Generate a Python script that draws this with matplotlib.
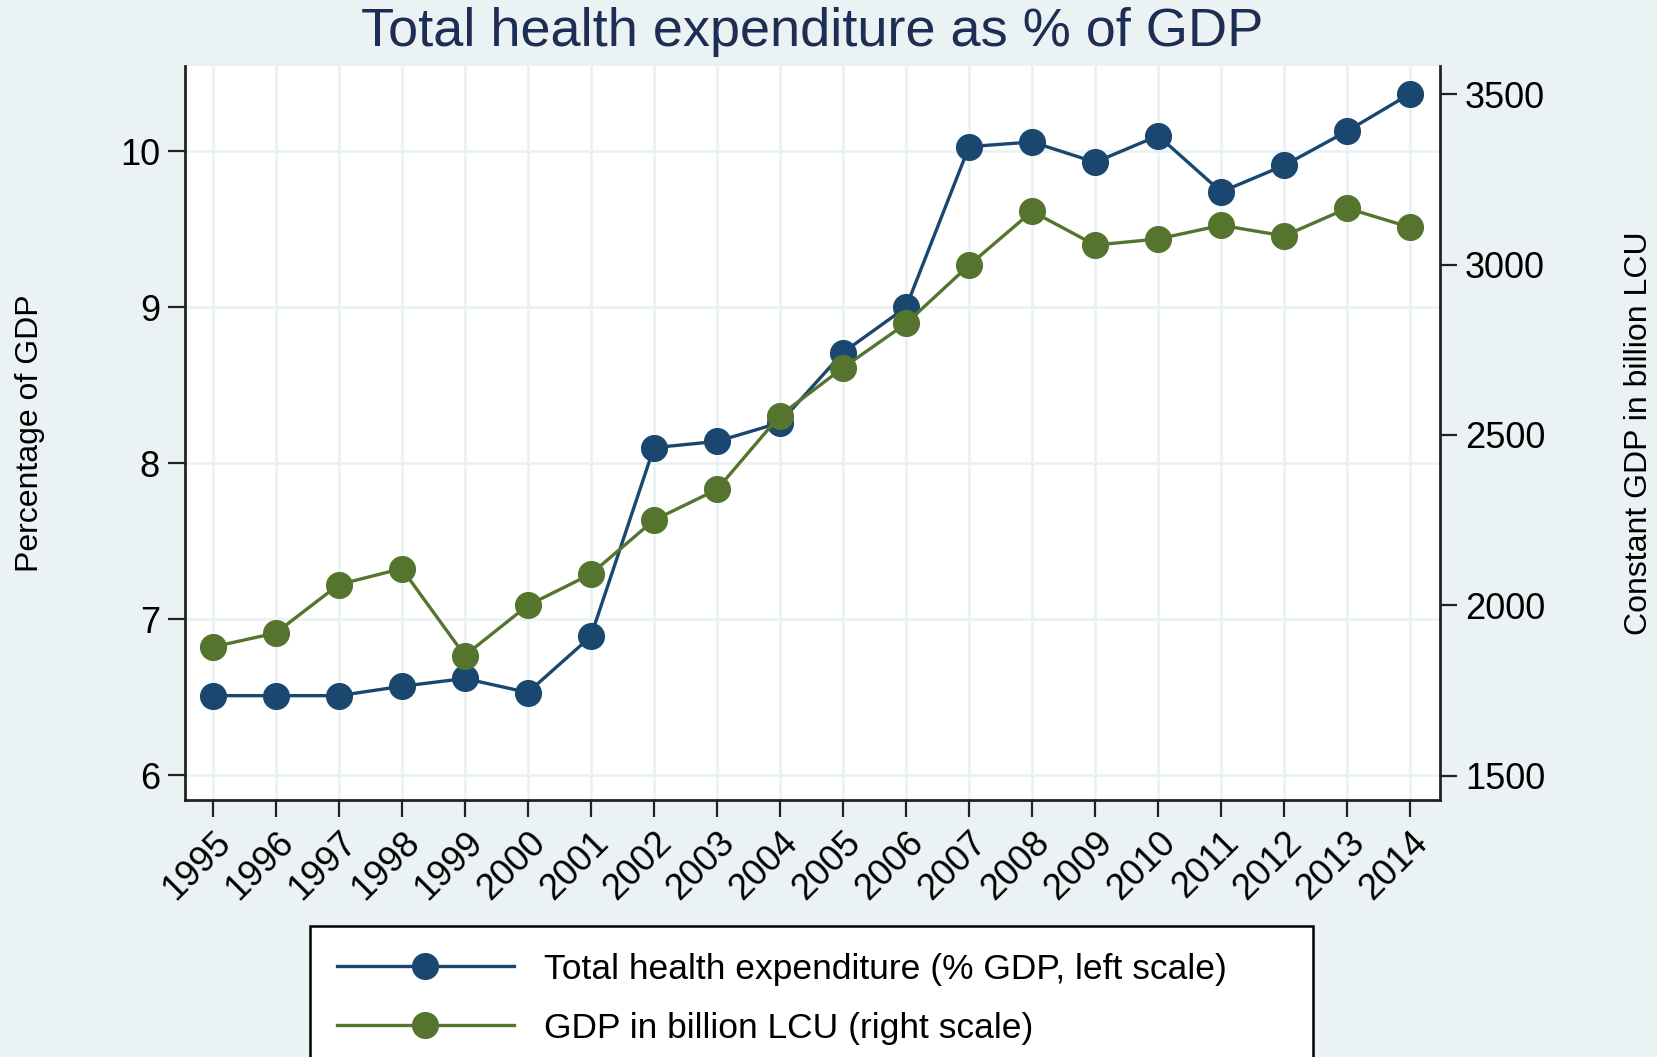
import matplotlib
matplotlib.use("Agg")
import matplotlib.pyplot as plt

# Datos
years = list(range(1995, 2015))
health_pct = [6.51, 6.51, 6.51, 6.57, 6.62, 6.53, 6.89, 8.10, 8.14, 8.26,
              8.71, 9.00, 10.03, 10.06, 9.93, 10.10, 9.74, 9.91, 10.13, 10.37]
gdp_lcu = [1878, 1919, 2061, 2108, 1853, 2000, 2092, 2250, 2340, 2557,
           2697, 2827, 2998, 3156, 3057, 3075, 3115, 3084, 3165, 3109]
left_ticks = [6, 7, 8, 9, 10]
right_ticks = [1500, 2000, 2500, 3000, 3500]

BLUE = "#1a476f"
GREEN = "#55752f"
BG = "#eaf2f3"

plt.rcParams["font.family"] = ["Liberation Sans", "DejaVu Sans"]

fig = plt.figure(figsize=(16.57, 10.57), dpi=100, facecolor=BG)
ax = fig.add_axes([0.1116, 0.243, 0.7574, 0.695])
ax2 = ax.twinx()

ax.set_facecolor("white")
ax.set_zorder(ax2.get_zorder() - 1)  # la rejilla queda debajo
ax2.patch.set_visible(False)

h1, = ax.plot(years, health_pct, color=BLUE, lw=2.4, marker="o", ms=18.5,
              label="Total health expenditure (% GDP, left scale)", zorder=3)
h2, = ax2.plot(years, gdp_lcu, color=GREEN, lw=2.4, marker="o", ms=18.5,
               label="GDP in billion LCU (right scale)", zorder=3)

ax.set_xlim(1994.56, 2014.47)
ax.set_ylim(5.84, 10.55)
ax2.set_ylim(1428.7, 3583.7)

ax.set_xticks(years)
ax.set_xticklabels([str(y) for y in years], rotation=45, ha="right",
                   rotation_mode="anchor")
ax.set_yticks(left_ticks)
ax2.set_yticks(right_ticks)

ax.grid(True, color=BG, lw=2)
ax.set_axisbelow(True)

for a in (ax, ax2):
    a.spines["top"].set_visible(False)
    for s in ("left", "right", "bottom"):
        a.spines[s].set_linewidth(2)
        a.spines[s].set_color("#222222")
    a.tick_params(direction="out", length=12, width=1.6, labelsize=26,
                  color="#222222", pad=6)
ax.spines["right"].set_visible(False)
ax2.spines["left"].set_visible(False)
ax2.spines["bottom"].set_visible(False)

ax.set_ylabel("Percentage of GDP", fontsize=23)
ax.yaxis.set_label_coords(-0.1116, 0.5)
ax2.set_ylabel("Constant GDP in billion LCU", fontsize=23, rotation=90)
ax2.yaxis.set_label_coords(1.1466, 0.5)

fig.text(0.4904, 1 - 32 / 1057, "Total health expenditure as % of GDP",
         fontsize=39, color="#1e2d53", ha="center", va="center")

leg = fig.legend(handles=[h1, h2], loc="upper left",
                 bbox_to_anchor=(310 / 1657, 1 - 926 / 1057, 1003 / 1657, 0.0),
                 mode="expand", fontsize=25.5, frameon=True, fancybox=False,
                 edgecolor="black", facecolor="white", framealpha=1,
                 borderpad=0.75, labelspacing=0.74, handlelength=5.0,
                 handletextpad=0.85, borderaxespad=0)
leg.get_frame().set_linewidth(1.8)

fig.savefig("out.png", dpi=100, facecolor=BG)
